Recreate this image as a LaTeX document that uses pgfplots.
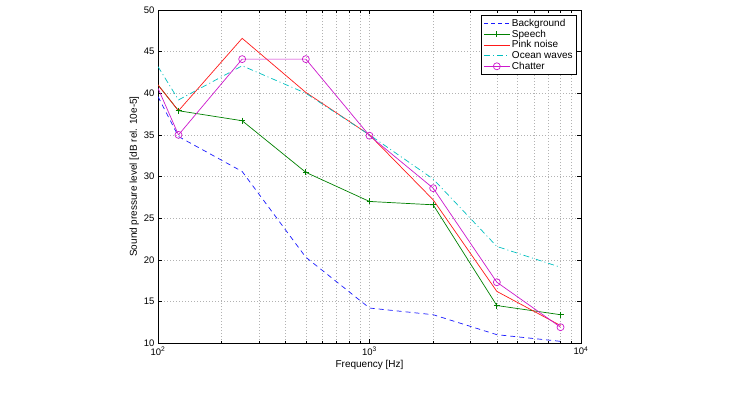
\documentclass[border=0pt]{standalone}
\usepackage{fontspec}
\setmainfont{Liberation Sans}
\usepackage{pgfplots}
\pgfplotsset{compat=1.18}
\definecolor{mblue}{rgb}{0.1,0.1,1}
\definecolor{mred}{rgb}{1,0.1,0.1}
\definecolor{mgreen}{rgb}{0,0.5,0}
\definecolor{mcyan}{rgb}{0,0.75,0.75}
\definecolor{mmag}{rgb}{0.8,0.1,0.8}
\begin{document}
\begin{tikzpicture}
\useasboundingbox (-158pt,-49pt) rectangle (583pt,343pt);
\begin{axis}[
  at={(0,0)}, anchor=south west,
  scale only axis, width=423pt, height=333pt,
  xmode=log, xmin=100, xmax=10000, ymin=10, ymax=50,
  xtick={100,1000,10000},
  xticklabels={10\textsuperscript{2},10\textsuperscript{3},10\textsuperscript{4}},
  minor xtick={200,300,400,500,600,700,800,900,2000,3000,4000,5000,6000,7000,8000,9000},
  ytick={10,15,20,25,30,35,40,45,50},
  /pgf/number format/assume math mode=true,
  tick align=inside, tick pos=both,
  major tick length=4pt, minor tick length=2.5pt,
  grid=both,
  major grid style={gray!60, line width=0.5pt, dash pattern=on 0.6pt off 2.4pt},
  minor grid style={gray!60, line width=0.5pt, dash pattern=on 0.6pt off 2.4pt},
  axis line style={black, line width=0.7pt},
  every tick/.style={black, line width=0.5pt},
  tick label style={font=\fontsize{9.5}{11}\selectfont},
  label style={font=\fontsize{10}{12}\selectfont},
  xlabel={Frequency [Hz]},
  ylabel={Sound pressure level [dB rel. 10e-5]},
  xlabel style={yshift=2pt},
  ylabel style={yshift=-2pt},
  legend style={at={(0.99,0.985)}, anchor=north east,
    font=\fontsize{10}{11}\selectfont, row sep=-2pt, inner sep=2pt,
    legend cell align=left},
  legend image code/.code={\draw[mark repeat=2,mark phase=2,#1] plot coordinates {(0cm,0cm) (0.45cm,0cm) (0.9cm,0cm)};},
  clip=true,
]
\addplot[color=mblue, line width=0.7pt, dash pattern=on 5pt off 4pt, forget plot] coordinates {
(100,39.6) (125,34.8) (250,30.6) (500,20.3) (1000,14.2) (2000,13.4) (4000,11.0) (8000,10.2)};
\addplot[color=mgreen, line width=0.7pt, forget plot] coordinates {(100,41.0) (125,37.9)};
\addplot[color=mgreen, line width=0.7pt, mark=+, mark size=3pt, forget plot] coordinates {
(125,37.9) (250,36.7) (500,30.5) (1000,27.0) (2000,26.6) (4000,14.5) (8000,13.4)};
\addplot[color=mred, line width=0.7pt, forget plot] coordinates {
(100,41.0) (125,37.9) (250,46.6) (500,40.1) (1000,35.0) (2000,27.2) (4000,16.2) (8000,12.1)};
\addplot[color=mcyan, line width=0.7pt, dash pattern=on 6pt off 3pt on 1pt off 3pt, forget plot] coordinates {
(100,43.2) (125,39.2) (250,43.3) (500,40.0) (1000,35.0) (2000,29.7) (4000,21.6) (8000,19.1)};
\addplot[color=mmag, line width=0.7pt, forget plot] coordinates {(100,40.6) (125,35.0)};
\addplot[color=mmag, line width=0.7pt, mark=o, mark size=3.5pt, forget plot] coordinates {
(125,35.0) (250,44.1) (500,44.1) (1000,34.9) (2000,28.6) (4000,17.3) (8000,11.9)};
\addlegendimage{draw=mblue, line width=0.7pt, dash pattern=on 4pt off 3pt}
\addlegendentry{Background}
\addlegendimage{draw=mgreen, line width=0.7pt, mark=+, mark size=3pt, mark options={draw=mgreen}}
\addlegendentry{Speech}
\addlegendimage{draw=mred, line width=0.7pt}
\addlegendentry{Pink noise}
\addlegendimage{draw=mcyan, line width=0.7pt, dash pattern=on 6pt off 3pt on 1pt off 3pt}
\addlegendentry{Ocean waves}
\addlegendimage{draw=mmag, line width=0.7pt, mark=o, mark size=3.5pt, mark options={draw=mmag}}
\addlegendentry{Chatter}
\end{axis}
\end{tikzpicture}
\end{document}
